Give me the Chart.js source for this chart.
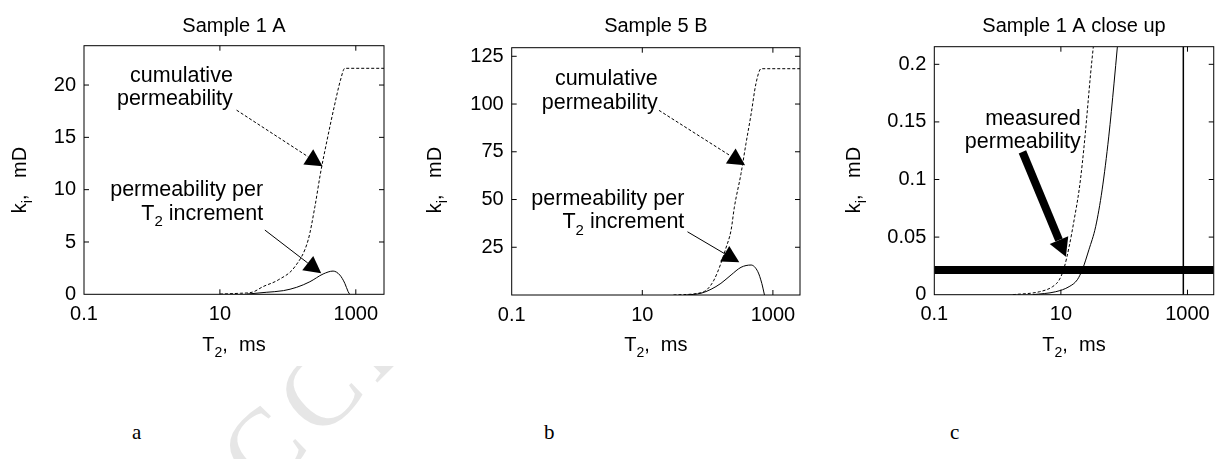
<!DOCTYPE html>
<html>
<head>
<meta charset="utf-8">
<script src="https://cdn.jsdelivr.net/npm/chart.js@4.4.1/dist/chart.umd.min.js"></script>
<style>
  html, body { margin: 0; padding: 0; background: #fff; }
  body { width: 1218px; height: 459px; position: relative; overflow: hidden; }
  #watermark { position: absolute; font-family: "Liberation Serif", serif; font-size: 104px; line-height: 1;
               letter-spacing: 10px; color: #e6e6e6; white-space: nowrap; }
  #figure { position: absolute; left: 0; top: 0; width: 1218px; height: 366px; background: #fff; }
  #figure canvas { position: absolute; top: 0; }
  .tag { position: absolute; font-family: "Liberation Serif", serif; font-size: 21px; color: #000; }
</style>
</head>
<body>
<div id="watermark">ACCEPTED MANUSCRIPT</div>
<div id="figure">
  <canvas id="chartA" width="400" height="366" style="left:0px"></canvas>
  <canvas id="chartB" width="400" height="366" style="left:420px"></canvas>
  <canvas id="chartC" width="378" height="366" style="left:840px"></canvas>
</div>
<div class="tag" style="left:132px; top:420px">a</div>
<div class="tag" style="left:544px; top:420px">b</div>
<div class="tag" style="left:950px; top:420px">c</div>

<script>
// T2 axis (ms), log scale
const xRange = [0.1, 2600];
const xTickValues = [0.1, 10, 1000];

// Sample 1 A
const t2CumA = [10, 20, 30, 43, 72, 127, 199, 250, 302, 378, 480, 595, 689, 2600];
const cumA = [0.02, 0.1, 0.2, 0.73, 1.37, 2.64, 5.19, 8.37, 11.56, 14.74, 17.9, 20.47, 21.6, 21.6];
const t2IncA = [25, 48, 86, 135, 211, 330, 463, 582, 689, 771, 814];
const incA = [0.02, 0.19, 0.35, 0.67, 1.2, 1.94, 2.22, 1.84, 1.05, 0.25, 0];
const yTicksA = [0, 5, 10, 15, 20];
const yMaxA = 23.76;

// Sample 5 B
const t2CumB = [30, 79, 99, 125, 160, 190, 229, 257, 325, 387, 465, 550, 660, 2600];
const cumB = [0, 1.2, 3.0, 7.8, 16.6, 24.4, 34, 46, 63.6, 79.3, 95, 110.7, 118.5, 118.5];
const t2IncB = [48, 79, 113, 160, 229, 325, 463, 588, 676, 743];
const incB = [0, 0.9, 3.0, 6.1, 10.5, 14.5, 15.7, 12.2, 6.1, 0];
const yTicksB = [25, 50, 75, 100, 125];
const yMaxB = 129.5;

// Sample 1 A close up
const t2CumC = [1.74, 4.6, 7.4, 9.4, 11.2, 13.5, 16.2, 19.4, 21.8, 24.3, 29.5, 32.5];
const cumC = [0, 0.0026, 0.007, 0.0128, 0.0229, 0.0417, 0.065, 0.0909, 0.114, 0.14, 0.192, 0.215];
const t2IncC = [3.6, 8.3, 13.5, 18.2, 21.9, 27.7, 35.4, 44.8, 57, 69, 78];
const incC = [0, 0.0026, 0.007, 0.013, 0.022, 0.039, 0.059, 0.091, 0.137, 0.183, 0.215];
const yTicksC = [0, 0.05, 0.1, 0.15, 0.2];
const yMaxC = 0.2153;
const measuredK = 0.0214;  // mD
const cutoffT2 = 860;      // ms

const FONT = '"Liberation Sans", Arial, sans-serif';
const H = 366;

function pts(xs, ys) {
  return xs.map((x, i) => ({ x: x, y: ys[i] }));
}

function curve(xs, ys, dashed) {
  return {
    data: pts(xs, ys),
    showLine: true,
    borderColor: '#000',
    borderWidth: 1,
    borderDash: dashed ? [3, 2] : [],
    pointRadius: 0,
    cubicInterpolationMode: 'monotone',
    clip: 0
  };
}

// text with subscripts: parts = [[text, isSub], ...], y = baseline
function setFont(ctx, p, size) {
  ctx.font = (p[1] ? Math.round(size * 0.68) : size) + 'px ' + FONT;
}

function drawRich(ctx, parts, x, y, align, size) {
  size = size || 20;
  let w = 0;
  parts.forEach(p => { setFont(ctx, p, size); w += ctx.measureText(p[0]).width; });
  let cx = align === 'right' ? x - w : align === 'center' ? x - w / 2 : x;
  ctx.textAlign = 'left';
  ctx.textBaseline = 'alphabetic';
  parts.forEach(p => {
    setFont(ctx, p, size);
    ctx.fillText(p[0], cx, p[1] ? y + size * 0.3 : y);
    cx += ctx.measureText(p[0]).width;
  });
}

function drawArrow(ctx, x0, y0, x1, y1, o) {
  const a = Math.atan2(y1 - y0, x1 - x0);
  const bx = x1 - o.headLen * Math.cos(a), by = y1 - o.headLen * Math.sin(a);
  const nx = Math.sin(a) * o.headW / 2, ny = -Math.cos(a) * o.headW / 2;
  ctx.save();
  ctx.strokeStyle = '#000';
  ctx.fillStyle = '#000';
  ctx.lineWidth = o.width;
  ctx.setLineDash(o.dash || []);
  ctx.beginPath();
  ctx.moveTo(x0, y0);
  ctx.lineTo(bx, by);
  ctx.stroke();
  ctx.setLineDash([]);
  ctx.beginPath();
  ctx.moveTo(x1, y1);
  ctx.lineTo(bx + nx, by + ny);
  ctx.lineTo(bx - nx, by - ny);
  ctx.closePath();
  ctx.fill();
  ctx.restore();
}

// frame, inward ticks, titles and annotations
const decorPlugin = {
  id: 'decor',
  afterDraw(chart) {
    const ctx = chart.ctx;
    const a = chart.chartArea;
    const sx = chart.scales.x, sy = chart.scales.y;
    const d = chart.options.plugins.decor;
    ctx.save();
    ctx.strokeStyle = '#000';
    ctx.lineWidth = 1;
    ctx.strokeRect(a.left, a.top, a.right - a.left, a.bottom - a.top);
    ctx.beginPath();
    xTickValues.forEach(v => {
      const px = sx.getPixelForValue(v);
      if (px <= a.left + 1 || px >= a.right - 1) return;
      ctx.moveTo(px, a.bottom); ctx.lineTo(px, a.bottom - 5);
      ctx.moveTo(px, a.top); ctx.lineTo(px, a.top + 5);
    });
    d.yTicks.forEach(v => {
      const py = sy.getPixelForValue(v);
      if (py >= a.bottom - 1 || py <= a.top + 1) return;
      ctx.moveTo(a.left, py); ctx.lineTo(a.left + 5, py);
      ctx.moveTo(a.right, py); ctx.lineTo(a.right - 5, py);
    });
    ctx.stroke();

    ctx.fillStyle = '#000';
    drawRich(ctx, [[d.title]], (a.left + a.right) / 2, 32, 'center');
    drawRich(ctx, [['T'], ['2', true], [',  ms']], (a.left + a.right) / 2, 351, 'center');
    ctx.save();
    ctx.translate(d.yTitleX, 180);
    ctx.rotate(-Math.PI / 2);
    drawRich(ctx, [['k'], ['i', true], [',   mD']], 0, 0, 'center');
    ctx.restore();

    d.texts.forEach(t => {
      const x = sx.getPixelForValue(t.at[0]);
      const y = sy.getPixelForValue(t.at[1]);
      t.lines.forEach((ln, i) => drawRich(ctx, ln, x, y + i * 23.5, 'right', 21.5));
    });
    d.arrows.forEach(r => {
      drawArrow(ctx,
        sx.getPixelForValue(r.from[0]), sy.getPixelForValue(r.from[1]),
        sx.getPixelForValue(r.to[0]), sy.getPixelForValue(r.to[1]), r.style);
    });
    ctx.restore();
  }
};

function makeChart(id, p) {
  const canvas = document.getElementById(id);
  return new Chart(canvas, {
    type: 'scatter',
    data: { datasets: p.datasets },
    options: {
      responsive: false,
      animation: false,
      events: [],
      layout: { padding: { left: 0, right: canvas.width - p.plotR, top: p.plotT, bottom: 0 } },
      plugins: {
        legend: { display: false },
        tooltip: { enabled: false },
        decor: p.decor
      },
      scales: {
        x: {
          type: 'logarithmic',
          min: xRange[0],
          max: xRange[1],
          grid: { display: false, drawTicks: false },
          border: { display: false },
          afterBuildTicks: s => { s.ticks = xTickValues.map(v => ({ value: v })); },
          afterFit: s => { s.height = H - p.plotB; },
          ticks: {
            autoSkip: false, maxRotation: 0, padding: 8, color: '#000',
            font: { family: FONT, size: 20 },
            callback: v => String(v)
          }
        },
        y: {
          min: 0,
          max: p.yMax,
          grid: { display: false, drawTicks: false },
          border: { display: false },
          afterBuildTicks: s => { s.ticks = p.decor.yTicks.map(v => ({ value: v })); },
          afterFit: s => { s.width = p.plotL; },
          ticks: {
            autoSkip: false, padding: 8, color: '#000',
            font: { family: FONT, size: 20 },
            callback: v => String(v)
          }
        }
      }
    },
    plugins: [decorPlugin]
  });
}

const thin = { width: 1, headLen: 17, headW: 18 };

makeChart('chartA', {
  plotL: 84, plotR: 384, plotT: 45.7, plotB: 294.3, yMax: yMaxA,
  datasets: [curve(t2CumA, cumA, true), curve(t2IncA, incA, false)],
  decor: {
    title: 'Sample 1 A', yTitleX: 25.5, yTicks: yTicksA,
    texts: [
      { at: [15.5, 20.3], lines: [[['cumulative']], [['permeability']]] },
      { at: [43.3, 9.39], lines: [[['permeability per']], [['T'], ['2', true], [' increment']]] }
    ],
    arrows: [
      { from: [17.6, 17.6], to: [324, 12.25], style: Object.assign({ dash: [3, 2] }, thin) },
      { from: [45.9, 6.14], to: [310, 2.0], style: thin }
    ]
  }
});

makeChart('chartB', {
  plotL: 91.7, plotR: 380, plotT: 47.7, plotB: 295, yMax: yMaxB,
  datasets: [curve(t2CumB, cumB, true), curve(t2IncB, incB, false)],
  decor: {
    title: 'Sample 5 B', yTitleX: 21, yTicks: yTicksB,
    texts: [
      { at: [17.2, 109.8], lines: [[['cumulative']], [['permeability']]] },
      { at: [44, 47.3], lines: [[['permeability per']], [['T'], ['2', true], [' increment']]] }
    ],
    arrows: [
      { from: [18, 96.7], to: [375, 68], style: Object.assign({ dash: [3, 2] }, thin) },
      { from: [49.2, 33.1], to: [306, 17.1], style: thin }
    ]
  }
});

makeChart('chartC', {
  plotL: 94.3, plotR: 375, plotT: 46.7, plotB: 294.7, yMax: yMaxC,
  datasets: [
    curve(t2CumC, cumC, true),
    curve(t2IncC, incC, false),
    { data: pts(xRange, [measuredK, measuredK]), showLine: true, borderColor: '#000',
      borderWidth: 8, pointRadius: 0, clip: 0 },
    { data: pts([cutoffT2, cutoffT2], [0, yMaxC]), showLine: true, borderColor: '#000',
      borderWidth: 1.5, pointRadius: 0, clip: 0 }
  ],
  decor: {
    title: 'Sample 1 A close up', yTitleX: 20, yTicks: yTicksC,
    texts: [
      { at: [20.6, 0.1477], lines: [[['measured']], [['permeability']]] }
    ],
    arrows: [
      { from: [2.47, 0.124], to: [12, 0.033], style: { width: 8, headLen: 18, headW: 20 } }
    ]
  }
});

// watermark: place the second "C" of "ACCEPTED" where it shows below the figure
(function () {
  const wm = document.getElementById('watermark');
  const size = 104, ls = 10, deg = -45, ang = deg * Math.PI / 180;
  const m = document.createElement('canvas').getContext('2d');
  m.font = size + 'px "Liberation Serif", serif';
  const along = m.measureText('AC').width + 2 * ls + m.measureText('C').width / 2;
  const up = 0.33 * size;
  const ux = Math.cos(ang), uy = Math.sin(ang);
  const ox = 320 - (along * ux + up * Math.sin(ang));
  const oy = 392 - (along * uy - up * Math.cos(ang));
  const asc = 0.8375 * size;
  wm.style.left = ox + 'px';
  wm.style.top = (oy - asc) + 'px';
  wm.style.transformOrigin = '0px ' + asc + 'px';
  wm.style.transform = 'rotate(' + deg + 'deg)';
})();
</script>
</body>
</html>
